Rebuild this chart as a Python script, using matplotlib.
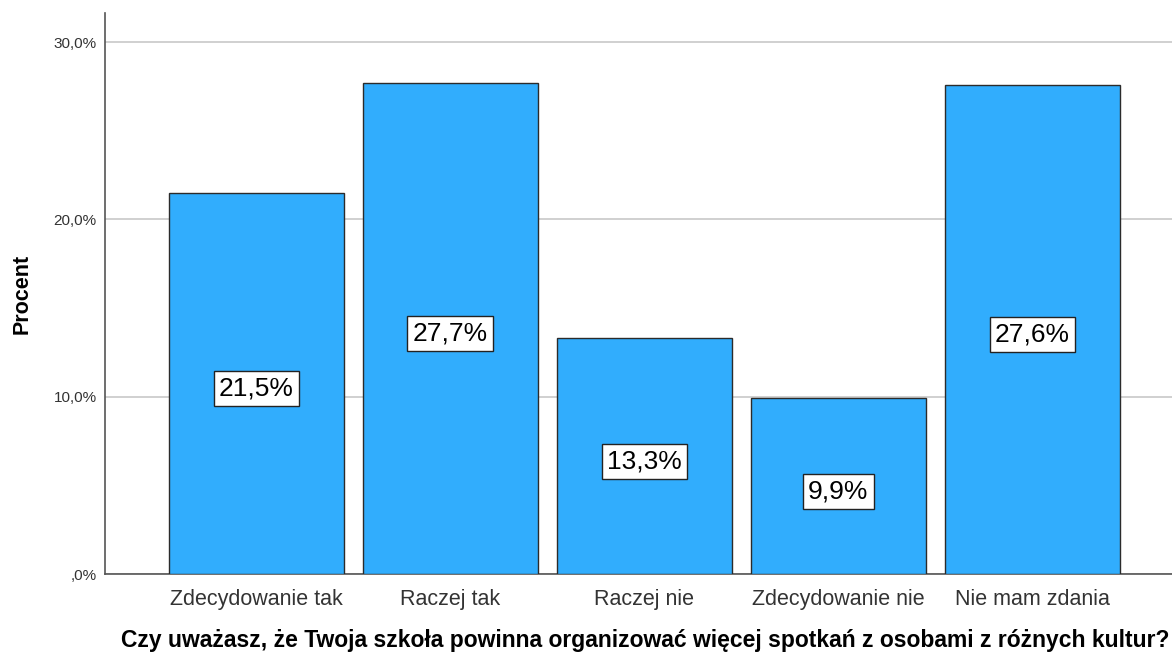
import matplotlib.pyplot as plt
from matplotlib.ticker import FuncFormatter

# data
categories = ["Zdecydowanie tak", "Raczej tak", "Raczej nie",
              "Zdecydowanie nie", "Nie mam zdania"]
percent = [21.5, 27.7, 13.3, 9.9, 27.6]
y_ticks = [0, 10, 20, 30]

BAR_COLOR = "#31adfd"
EDGE = "#2b2b2b"

plt.rcParams["font.family"] = ["Liberation Sans", "DejaVu Sans"]

fig = plt.figure(figsize=(11.72, 6.55), dpi=100)
ax = fig.add_axes([105 / 1172, 81 / 655, 1067 / 1172, 561 / 655])

x = list(range(len(categories)))
ax.bar(x, percent, width=0.9, color=BAR_COLOR, edgecolor=EDGE,
       linewidth=1.0, zorder=3)

for xi, v in zip(x, percent):
    lbl = f"{v:.1f}%".replace(".", ",")
    ax.text(xi, v / 2 - 0.3, lbl, ha="center", va="center", fontsize=19,
            color="black", zorder=4,
            bbox=dict(boxstyle="square,pad=0.2", fc="white",
                      ec="#222222", lw=1.0))

ax.set_xlim(-0.78, 4.72)
ax.set_ylim(0, 31.64)
ax.set_yticks(y_ticks)


def pct_fmt(v, _):
    s = f"{v:.1f}%".replace(".", ",")
    return s[1:] if v == 0 else s


ax.yaxis.set_major_formatter(FuncFormatter(pct_fmt))
ax.set_xticks(x)
ax.set_xticklabels(categories)
ax.tick_params(axis="x", length=0, labelsize=15.5, colors="#333333", pad=11)
ax.tick_params(axis="y", length=0, labelsize=11, colors="#333333", pad=6)

ax.grid(axis="y", color="#c8c8c8", linewidth=1.2, zorder=0)
for s in ("top", "right"):
    ax.spines[s].set_visible(False)
for s in ("left", "bottom"):
    ax.spines[s].set_color("#555555")
    ax.spines[s].set_linewidth(1.2)

ax.set_ylabel("Procent", fontsize=15.5, fontweight="bold")
ax.yaxis.set_label_coords(-0.068, 0.5)
ax.set_xlabel("Czy uważasz, że Twoja szkoła powinna organizować więcej "
              "spotkań z osobami z różnych kultur?",
              fontsize=16.5, fontweight="bold", va="center")
ax.xaxis.set_label_coords(0.506, -0.118)

fig.savefig("out.png", dpi=100)
